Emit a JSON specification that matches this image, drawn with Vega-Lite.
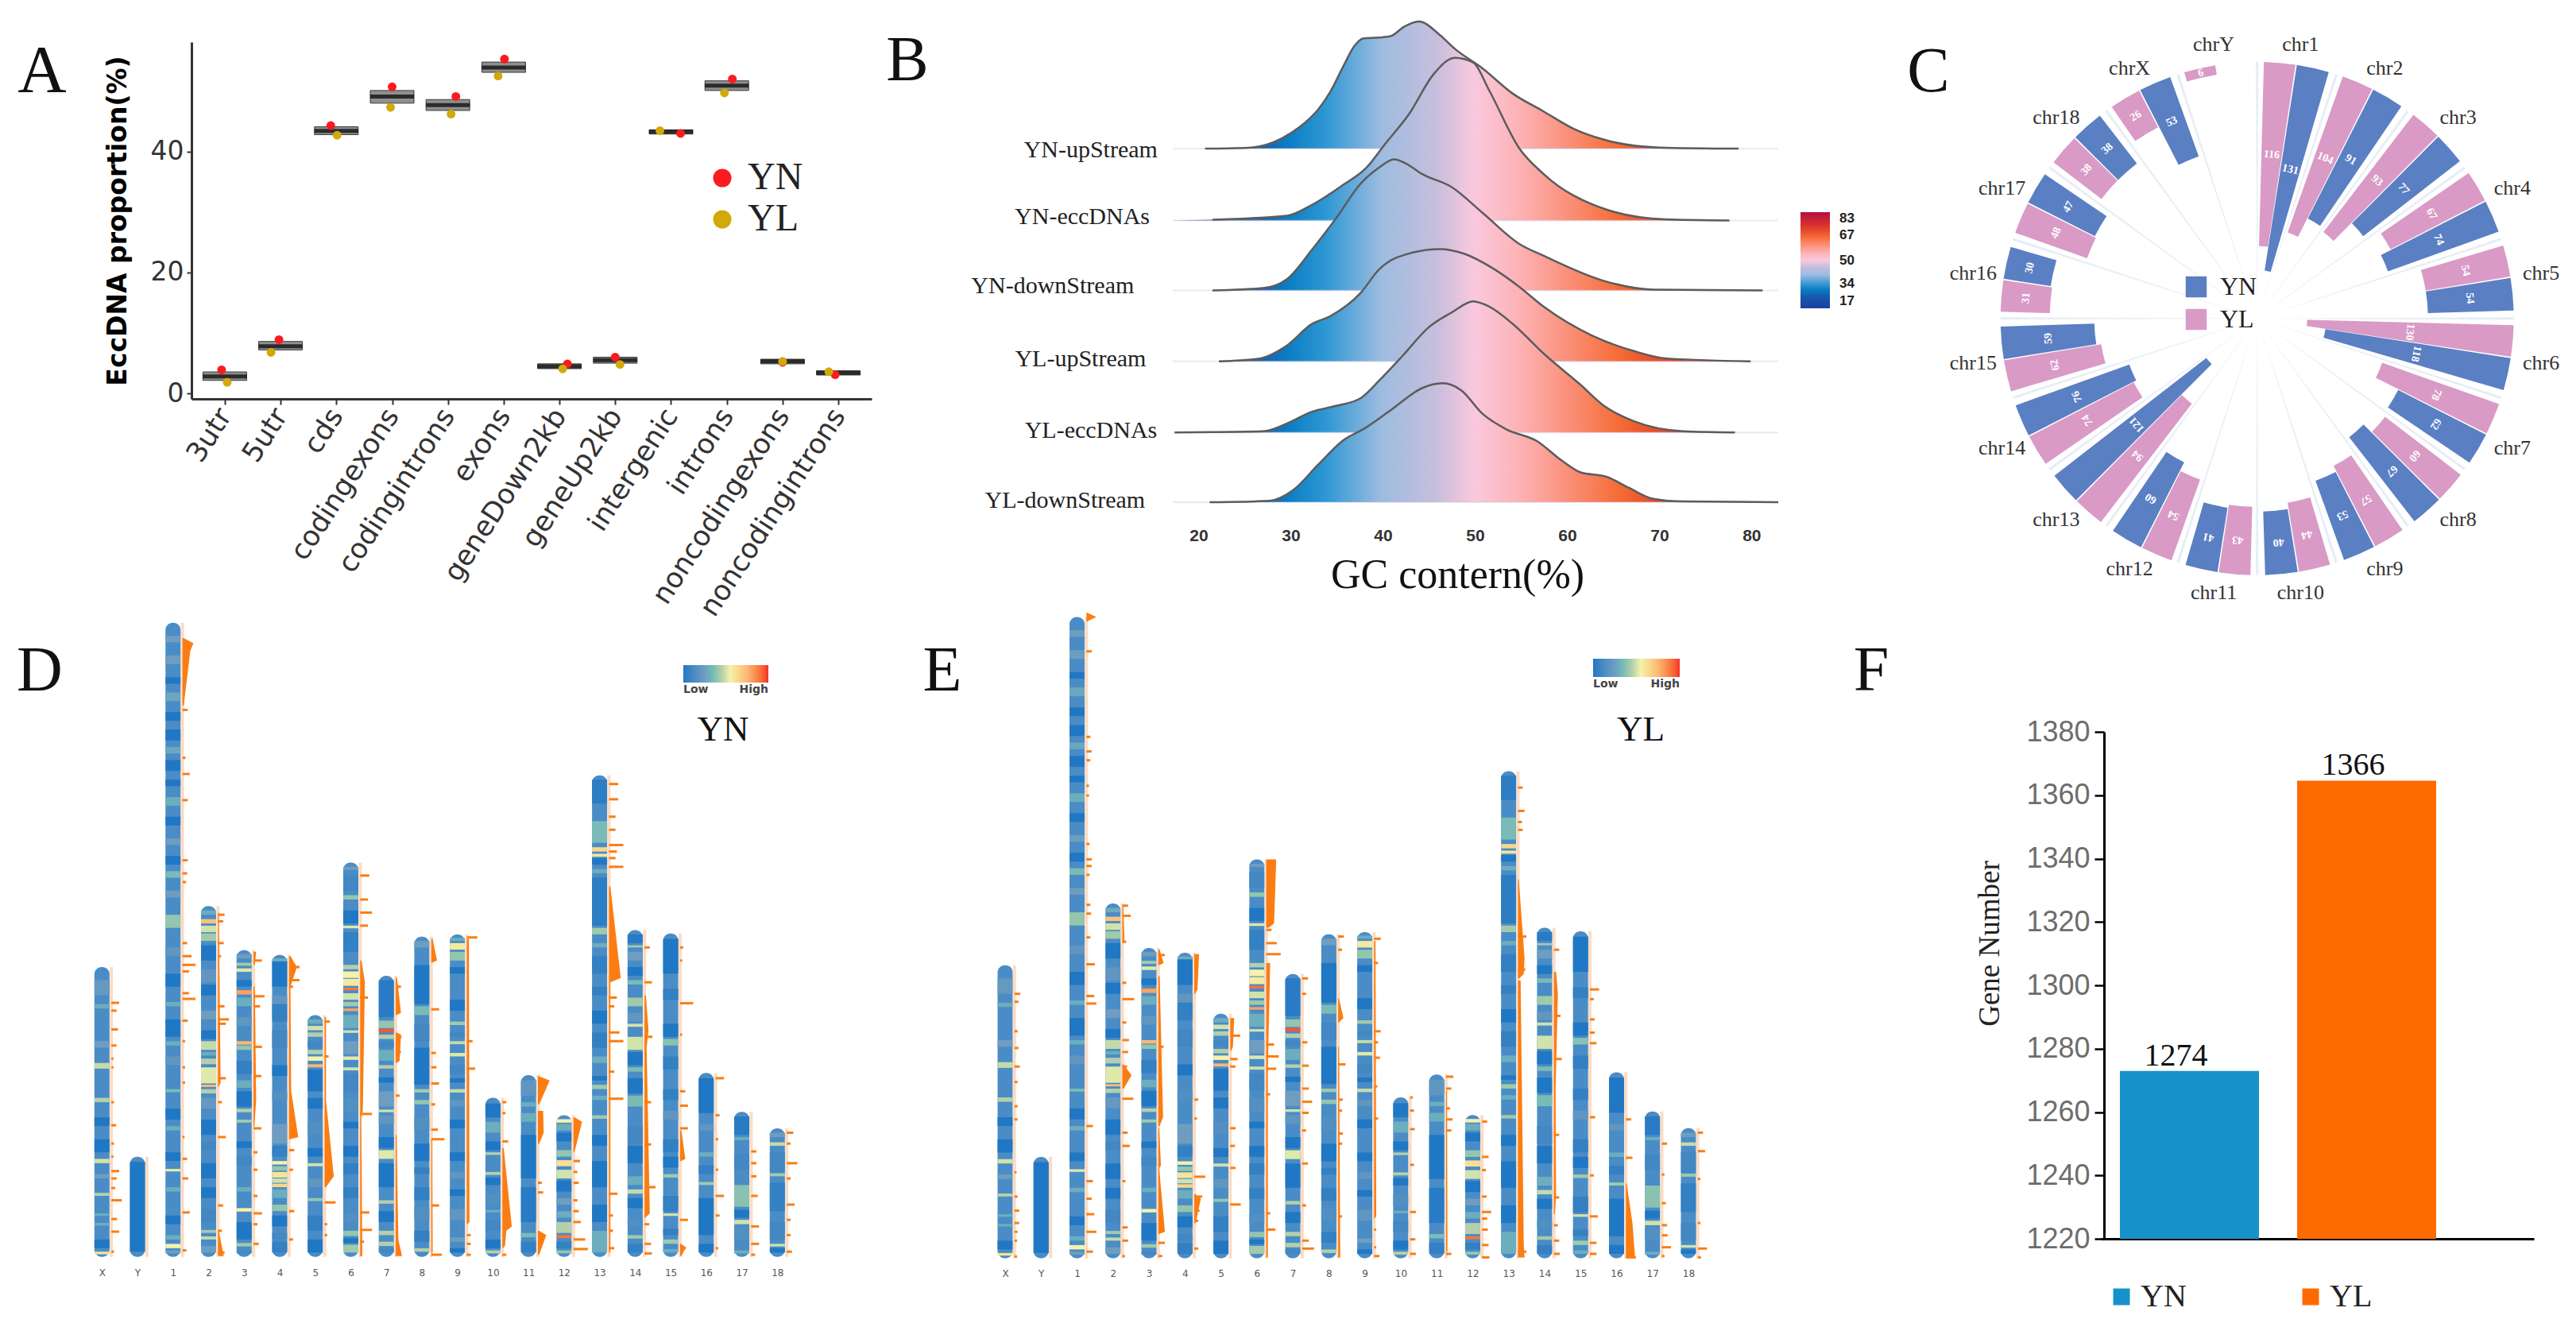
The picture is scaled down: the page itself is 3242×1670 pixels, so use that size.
{"$schema":"https://vega.github.io/schema/vega-lite/v6.json","width":3242,"height":1670,"padding":0,"autosize":{"type":"fit","contains":"padding"},"background":"white","config":{"view":{"stroke":null},"axis":{"grid":false}},
"datasets":{
"box":[{"cat":"3utr","q1":2.16,"q3":3.56,"med":2.8},{"cat":"5utr","q1":7.2,"q3":8.6,"med":7.8},{"cat":"cds","q1":42.8,"q3":44.1,"med":43.4},{"cat":"codingexons","q1":48,"q3":50.1,"med":49.1},{"cat":"codingintrons","q1":46.8,"q3":48.6,"med":47.7},{"cat":"exons","q1":53.1,"q3":54.8,"med":53.9},{"cat":"geneDown2kb","q1":4.1,"q3":4.9,"med":4.5},{"cat":"geneUp2kb","q1":5,"q3":6,"med":5.5},{"cat":"intergenic","q1":42.9,"q3":43.6,"med":43.3},{"cat":"introns","q1":50.1,"q3":51.7,"med":50.9},{"cat":"noncodingexons","q1":4.9,"q3":5.66,"med":5.3},{"cat":"noncodingintrons","q1":3.05,"q3":3.75,"med":3.4}],
"pts":[{"cat":"3utr","g":"YN","v":3.9,"j":-4},{"cat":"3utr","g":"YL","v":1.85,"j":3},{"cat":"5utr","g":"YN","v":8.9,"j":-2},{"cat":"5utr","g":"YL","v":6.8,"j":-12},{"cat":"cds","g":"YN","v":44.3,"j":-7},{"cat":"cds","g":"YL","v":42.7,"j":1},{"cat":"codingexons","g":"YN","v":50.7,"j":0},{"cat":"codingexons","g":"YL","v":47.3,"j":-2},{"cat":"codingintrons","g":"YN","v":49.1,"j":10},{"cat":"codingintrons","g":"YL","v":46.2,"j":4},{"cat":"exons","g":"YN","v":55.3,"j":1},{"cat":"exons","g":"YL","v":52.5,"j":-7},{"cat":"geneDown2kb","g":"YN","v":4.9,"j":10},{"cat":"geneDown2kb","g":"YL","v":4.07,"j":4},{"cat":"geneUp2kb","g":"YN","v":6,"j":0},{"cat":"geneUp2kb","g":"YL","v":4.8,"j":6},{"cat":"intergenic","g":"YN","v":43,"j":12},{"cat":"intergenic","g":"YL","v":43.45,"j":-14},{"cat":"introns","g":"YN","v":52,"j":7},{"cat":"introns","g":"YL","v":49.7,"j":-3},{"cat":"noncodingexons","g":"YN","v":5.15,"j":0},{"cat":"noncodingexons","g":"YL","v":5.3,"j":0},{"cat":"noncodingintrons","g":"YN","v":3.1,"j":-4},{"cat":"noncodingintrons","g":"YL","v":3.6,"j":-12}],
"ridge":[
{"s":"YN-upStream","gc":17.2,"d":0,"t":1},{"s":"YN-upStream","gc":20.7,"d":0},{"s":"YN-upStream","gc":25.7,"d":3},{"s":"YN-upStream","gc":29,"d":26},{"s":"YN-upStream","gc":31,"d":56},{"s":"YN-upStream","gc":33,"d":101},{"s":"YN-upStream","gc":34.3,"d":146},{"s":"YN-upStream","gc":35.6,"d":206},{"s":"YN-upStream","gc":36.9,"d":263},{"s":"YN-upStream","gc":37.9,"d":283},{"s":"YN-upStream","gc":39.6,"d":285},{"s":"YN-upStream","gc":40.9,"d":289},{"s":"YN-upStream","gc":42.2,"d":311},{"s":"YN-upStream","gc":43.9,"d":326},{"s":"YN-upStream","gc":46.2,"d":291},{"s":"YN-upStream","gc":47.8,"d":256},{"s":"YN-upStream","gc":50.8,"d":206},{"s":"YN-upStream","gc":54.1,"d":141},{"s":"YN-upStream","gc":57.4,"d":96},{"s":"YN-upStream","gc":60.7,"d":51},{"s":"YN-upStream","gc":64,"d":23},{"s":"YN-upStream","gc":70,"d":3},{"s":"YN-upStream","gc":78.6,"d":0},{"s":"YN-upStream","gc":82.9,"d":0,"t":1},
{"s":"YN-eccDNAs","gc":17.2,"d":0,"t":1},{"s":"YN-eccDNAs","gc":21.5,"d":2},{"s":"YN-eccDNAs","gc":29.6,"d":12},{"s":"YN-eccDNAs","gc":32.3,"d":40},{"s":"YN-eccDNAs","gc":35.6,"d":90},{"s":"YN-eccDNAs","gc":38.2,"d":135},{"s":"YN-eccDNAs","gc":40.2,"d":195},{"s":"YN-eccDNAs","gc":42.9,"d":275},{"s":"YN-eccDNAs","gc":45.5,"d":375},{"s":"YN-eccDNAs","gc":47.8,"d":417},{"s":"YN-eccDNAs","gc":49.8,"d":405},{"s":"YN-eccDNAs","gc":51.5,"d":335},{"s":"YN-eccDNAs","gc":54.8,"d":185},{"s":"YN-eccDNAs","gc":57.4,"d":120},{"s":"YN-eccDNAs","gc":64,"d":30},{"s":"YN-eccDNAs","gc":70.6,"d":3},{"s":"YN-eccDNAs","gc":77.6,"d":0},{"s":"YN-eccDNAs","gc":82.9,"d":0,"t":1},
{"s":"YN-downStream","gc":17.2,"d":0,"t":1},{"s":"YN-downStream","gc":21.5,"d":0},{"s":"YN-downStream","gc":27,"d":6},{"s":"YN-downStream","gc":29.6,"d":29},{"s":"YN-downStream","gc":32.3,"d":104},{"s":"YN-downStream","gc":34.9,"d":184},{"s":"YN-downStream","gc":37.6,"d":274},{"s":"YN-downStream","gc":39.6,"d":315},{"s":"YN-downStream","gc":41.2,"d":336},{"s":"YN-downStream","gc":42.5,"d":325},{"s":"YN-downStream","gc":44.2,"d":299},{"s":"YN-downStream","gc":47.5,"d":264},{"s":"YN-downStream","gc":50.8,"d":199},{"s":"YN-downStream","gc":54.8,"d":119},{"s":"YN-downStream","gc":57.4,"d":89},{"s":"YN-downStream","gc":64,"d":24},{"s":"YN-downStream","gc":69.3,"d":2},{"s":"YN-downStream","gc":81.2,"d":0},{"s":"YN-downStream","gc":82.9,"d":0,"t":1},
{"s":"YL-upStream","gc":17.2,"d":0,"t":1},{"s":"YL-upStream","gc":22.2,"d":0},{"s":"YL-upStream","gc":26.3,"d":6},{"s":"YL-upStream","gc":29.6,"d":41},{"s":"YL-upStream","gc":32.3,"d":96},{"s":"YL-upStream","gc":34.3,"d":116},{"s":"YL-upStream","gc":37.6,"d":176},{"s":"YL-upStream","gc":39.6,"d":236},{"s":"YL-upStream","gc":41.5,"d":266},{"s":"YL-upStream","gc":46.2,"d":288},{"s":"YL-upStream","gc":48.8,"d":276},{"s":"YL-upStream","gc":52.1,"d":236},{"s":"YL-upStream","gc":54.8,"d":191},{"s":"YL-upStream","gc":57.4,"d":141},{"s":"YL-upStream","gc":62.7,"d":66},{"s":"YL-upStream","gc":67.3,"d":26},{"s":"YL-upStream","gc":70.6,"d":8},{"s":"YL-upStream","gc":79.9,"d":0},{"s":"YL-upStream","gc":82.9,"d":0,"t":1},
{"s":"YL-eccDNAs","gc":17.2,"d":0,"t":1},{"s":"YL-eccDNAs","gc":17.4,"d":0},{"s":"YL-eccDNAs","gc":27,"d":3},{"s":"YL-eccDNAs","gc":29.6,"d":23},{"s":"YL-eccDNAs","gc":32.3,"d":53},{"s":"YL-eccDNAs","gc":34.9,"d":68},{"s":"YL-eccDNAs","gc":37.6,"d":88},{"s":"YL-eccDNAs","gc":39.6,"d":133},{"s":"YL-eccDNAs","gc":42.2,"d":198},{"s":"YL-eccDNAs","gc":44.9,"d":268},{"s":"YL-eccDNAs","gc":47.5,"d":308},{"s":"YL-eccDNAs","gc":49.8,"d":336},{"s":"YL-eccDNAs","gc":51.5,"d":323},{"s":"YL-eccDNAs","gc":54.1,"d":278},{"s":"YL-eccDNAs","gc":57.4,"d":203},{"s":"YL-eccDNAs","gc":61.4,"d":123},{"s":"YL-eccDNAs","gc":64,"d":68},{"s":"YL-eccDNAs","gc":67.3,"d":28},{"s":"YL-eccDNAs","gc":72.6,"d":3},{"s":"YL-eccDNAs","gc":78.2,"d":0},{"s":"YL-eccDNAs","gc":82.9,"d":0,"t":1},
{"s":"YL-downStream","gc":17.2,"d":0,"t":1},{"s":"YL-downStream","gc":21.2,"d":0},{"s":"YL-downStream","gc":27.7,"d":4},{"s":"YL-downStream","gc":30.3,"d":32},{"s":"YL-downStream","gc":33,"d":97},{"s":"YL-downStream","gc":35.6,"d":157},{"s":"YL-downStream","gc":38.2,"d":192},{"s":"YL-downStream","gc":40.9,"d":237},{"s":"YL-downStream","gc":44.2,"d":292},{"s":"YL-downStream","gc":46.5,"d":305},{"s":"YL-downStream","gc":48.5,"d":287},{"s":"YL-downStream","gc":50.8,"d":227},{"s":"YL-downStream","gc":53.4,"d":187},{"s":"YL-downStream","gc":56.7,"d":157},{"s":"YL-downStream","gc":59.4,"d":107},{"s":"YL-downStream","gc":61.4,"d":77},{"s":"YL-downStream","gc":64.3,"d":65},{"s":"YL-downStream","gc":66.7,"d":37},{"s":"YL-downStream","gc":69.3,"d":9},{"s":"YL-downStream","gc":72.6,"d":2},{"s":"YL-downStream","gc":82.9,"d":0}
],
"circ":[{"chr":"chr1","k":0,"group":"YL","value":116},{"chr":"chr1","k":0,"group":"YN","value":131},{"chr":"chr2","k":1,"group":"YL","value":104},{"chr":"chr2","k":1,"group":"YN","value":91},{"chr":"chr3","k":2,"group":"YL","value":93},{"chr":"chr3","k":2,"group":"YN","value":77},{"chr":"chr4","k":3,"group":"YL","value":67},{"chr":"chr4","k":3,"group":"YN","value":74},{"chr":"chr5","k":4,"group":"YL","value":54},{"chr":"chr5","k":4,"group":"YN","value":54},{"chr":"chr6","k":5,"group":"YL","value":130},{"chr":"chr6","k":5,"group":"YN","value":118},{"chr":"chr7","k":6,"group":"YL","value":78},{"chr":"chr7","k":6,"group":"YN","value":62},{"chr":"chr8","k":7,"group":"YL","value":60},{"chr":"chr8","k":7,"group":"YN","value":67},{"chr":"chr9","k":8,"group":"YL","value":57},{"chr":"chr9","k":8,"group":"YN","value":53},{"chr":"chr10","k":9,"group":"YL","value":44},{"chr":"chr10","k":9,"group":"YN","value":40},{"chr":"chr11","k":10,"group":"YL","value":43},{"chr":"chr11","k":10,"group":"YN","value":41},{"chr":"chr12","k":11,"group":"YL","value":54},{"chr":"chr12","k":11,"group":"YN","value":60},{"chr":"chr13","k":12,"group":"YL","value":94},{"chr":"chr13","k":12,"group":"YN","value":121},{"chr":"chr14","k":13,"group":"YL","value":74},{"chr":"chr14","k":13,"group":"YN","value":76},{"chr":"chr15","k":14,"group":"YL","value":62},{"chr":"chr15","k":14,"group":"YN","value":59},{"chr":"chr16","k":15,"group":"YL","value":31},{"chr":"chr16","k":15,"group":"YN","value":30},{"chr":"chr17","k":16,"group":"YL","value":48},{"chr":"chr17","k":16,"group":"YN","value":47},{"chr":"chr18","k":17,"group":"YL","value":38},{"chr":"chr18","k":17,"group":"YN","value":38},{"chr":"chrX","k":18,"group":"YL","value":26},{"chr":"chrX","k":18,"group":"YN","value":53},{"chr":"chrY","k":19,"group":"YL","value":6}],
"chroms":[{"i":0,"len":665},{"i":1,"len":230},{"i":2,"len":1455},{"i":3,"len":805},{"i":4,"len":704},{"i":5,"len":693},{"i":6,"len":555},{"i":7,"len":905},{"i":8,"len":645},{"i":9,"len":735},{"i":10,"len":740},{"i":11,"len":365},{"i":12,"len":417},{"i":13,"len":325},{"i":14,"len":1105},{"i":15,"len":750},{"i":16,"len":742},{"i":17,"len":422},{"i":18,"len":333},{"i":19,"len":295}],
"stripes":[
{"i":0,"s":600,"e":635,"v":0.22},{"i":0,"s":570,"e":580,"v":0.3},{"i":0,"s":480,"e":495,"v":0.25},{"i":0,"s":432,"e":445,"v":0.48},{"i":0,"s":355,"e":365,"v":0.45},{"i":0,"s":300,"e":320,"v":0},{"i":0,"s":240,"e":270,"v":0},{"i":0,"s":215,"e":225,"v":0.5},{"i":0,"s":180,"e":190,"v":0.25},{"i":0,"s":140,"e":147,"v":0.45},{"i":0,"s":94,"e":100,"v":0.3},{"i":0,"s":72,"e":78,"v":0.3},{"i":0,"s":20,"e":40,"v":0},{"i":0,"s":6,"e":12,"v":0.6},
{"i":1,"s":12,"e":218,"v":0},
{"i":2,"s":1410,"e":1425,"v":0.25},{"i":2,"s":1360,"e":1380,"v":0.25},{"i":2,"s":1315,"e":1330,"v":0},{"i":2,"s":1275,"e":1295,"v":0.28},{"i":2,"s":1230,"e":1250,"v":0},{"i":2,"s":1185,"e":1210,"v":0},{"i":2,"s":1155,"e":1170,"v":0.28},{"i":2,"s":1115,"e":1140,"v":0},{"i":2,"s":1080,"e":1095,"v":0},{"i":2,"s":1035,"e":1055,"v":0.3},{"i":2,"s":990,"e":1010,"v":0},{"i":2,"s":945,"e":960,"v":0.25},{"i":2,"s":900,"e":920,"v":0},{"i":2,"s":870,"e":885,"v":0.35},{"i":2,"s":825,"e":840,"v":0.25},{"i":2,"s":755,"e":785,"v":0.4},{"i":2,"s":690,"e":710,"v":0.2},{"i":2,"s":620,"e":650,"v":0},{"i":2,"s":575,"e":585,"v":0.3},{"i":2,"s":505,"e":545,"v":0},{"i":2,"s":485,"e":495,"v":0.3},{"i":2,"s":440,"e":460,"v":0.2},{"i":2,"s":378,"e":385,"v":0.35},{"i":2,"s":315,"e":340,"v":0},{"i":2,"s":290,"e":300,"v":0.3},{"i":2,"s":220,"e":240,"v":0},{"i":2,"s":196,"e":202,"v":0.52},{"i":2,"s":150,"e":160,"v":0.3},{"i":2,"s":75,"e":95,"v":0},{"i":2,"s":40,"e":50,"v":0.3},{"i":2,"s":20,"e":30,"v":0.55},{"i":2,"s":8,"e":15,"v":0.25},
{"i":3,"s":785,"e":795,"v":0.3},{"i":3,"s":765,"e":775,"v":0.72},{"i":3,"s":745,"e":760,"v":0.5},{"i":3,"s":725,"e":742,"v":0.42},{"i":3,"s":680,"e":715,"v":0},{"i":3,"s":630,"e":660,"v":0.2},{"i":3,"s":600,"e":625,"v":0},{"i":3,"s":545,"e":565,"v":0.25},{"i":3,"s":500,"e":520,"v":0},{"i":3,"s":475,"e":495,"v":0.48},{"i":3,"s":462,"e":470,"v":0.3},{"i":3,"s":442,"e":455,"v":0.45},{"i":3,"s":398,"e":435,"v":0.52},{"i":3,"s":390,"e":395,"v":0.72},{"i":3,"s":375,"e":385,"v":0.45},{"i":3,"s":340,"e":365,"v":0.22},{"i":3,"s":280,"e":315,"v":0},{"i":3,"s":245,"e":265,"v":0.1},{"i":3,"s":180,"e":215,"v":0},{"i":3,"s":135,"e":160,"v":0},{"i":3,"s":80,"e":110,"v":0.1},{"i":3,"s":55,"e":62,"v":0.42},{"i":3,"s":40,"e":47,"v":0.48},{"i":3,"s":10,"e":25,"v":0.25},
{"i":4,"s":685,"e":695,"v":0.25},{"i":4,"s":668,"e":675,"v":0.42},{"i":4,"s":654,"e":662,"v":0.52},{"i":4,"s":620,"e":635,"v":0},{"i":4,"s":602,"e":612,"v":0.8},{"i":4,"s":575,"e":595,"v":0.3},{"i":4,"s":530,"e":550,"v":0.2},{"i":4,"s":487,"e":495,"v":0.75},{"i":4,"s":475,"e":485,"v":0.4},{"i":4,"s":420,"e":450,"v":0.05},{"i":4,"s":388,"e":405,"v":0.3},{"i":4,"s":345,"e":380,"v":0},{"i":4,"s":332,"e":340,"v":0.45},{"i":4,"s":308,"e":315,"v":0.42},{"i":4,"s":250,"e":265,"v":0},{"i":4,"s":210,"e":230,"v":0.1},{"i":4,"s":150,"e":160,"v":0.3},{"i":4,"s":104,"e":112,"v":0.55},{"i":4,"s":40,"e":80,"v":0},{"i":4,"s":24,"e":32,"v":0.42},{"i":4,"s":8,"e":15,"v":0.1},
{"i":5,"s":678,"e":685,"v":0.3},{"i":5,"s":620,"e":678,"v":0},{"i":5,"s":580,"e":600,"v":0.2},{"i":5,"s":540,"e":580,"v":0.05},{"i":5,"s":480,"e":520,"v":0.1},{"i":5,"s":415,"e":440,"v":0},{"i":5,"s":360,"e":380,"v":0.15},{"i":5,"s":260,"e":305,"v":0.25},{"i":5,"s":230,"e":255,"v":0.05},{"i":5,"s":212,"e":220,"v":0.55},{"i":5,"s":198,"e":208,"v":0.4},{"i":5,"s":182,"e":195,"v":0.6},{"i":5,"s":170,"e":180,"v":0.5},{"i":5,"s":160,"e":168,"v":0.65},{"i":5,"s":135,"e":155,"v":0.3},{"i":5,"s":105,"e":120,"v":0.4},{"i":5,"s":70,"e":95,"v":0},{"i":5,"s":40,"e":55,"v":0.1},{"i":5,"s":10,"e":35,"v":0.05},
{"i":6,"s":535,"e":545,"v":0.3},{"i":6,"s":520,"e":530,"v":0.5},{"i":6,"s":505,"e":515,"v":0.45},{"i":6,"s":480,"e":495,"v":0.1},{"i":6,"s":465,"e":475,"v":0.45},{"i":6,"s":450,"e":460,"v":0.55},{"i":6,"s":435,"e":442,"v":0.75},{"i":6,"s":380,"e":430,"v":0},{"i":6,"s":340,"e":365,"v":0},{"i":6,"s":280,"e":310,"v":0.15},{"i":6,"s":230,"e":250,"v":0},{"i":6,"s":208,"e":215,"v":0.5},{"i":6,"s":160,"e":180,"v":0.2},{"i":6,"s":128,"e":135,"v":0.4},{"i":6,"s":60,"e":95,"v":0.05},{"i":6,"s":10,"e":40,"v":0},
{"i":7,"s":888,"e":895,"v":0.25},{"i":7,"s":840,"e":875,"v":0.1},{"i":7,"s":820,"e":830,"v":0.4},{"i":7,"s":765,"e":795,"v":0},{"i":7,"s":754,"e":760,"v":0.52},{"i":7,"s":700,"e":745,"v":0.05},{"i":7,"s":660,"e":670,"v":0.45},{"i":7,"s":640,"e":655,"v":0.55},{"i":7,"s":622,"e":638,"v":0.58},{"i":7,"s":612,"e":618,"v":0.9},{"i":7,"s":590,"e":605,"v":0.5},{"i":7,"s":575,"e":585,"v":0.42},{"i":7,"s":564,"e":570,"v":0.8},{"i":7,"s":525,"e":555,"v":0.3},{"i":7,"s":514,"e":520,"v":0.5},{"i":7,"s":465,"e":495,"v":0.25},{"i":7,"s":452,"e":460,"v":0.52},{"i":7,"s":428,"e":435,"v":0.5},{"i":7,"s":380,"e":420,"v":0.1},{"i":7,"s":330,"e":365,"v":0.15},{"i":7,"s":295,"e":310,"v":0},{"i":7,"s":230,"e":255,"v":0},{"i":7,"s":190,"e":215,"v":0.05},{"i":7,"s":135,"e":160,"v":0.05},{"i":7,"s":80,"e":100,"v":0.15},{"i":7,"s":48,"e":60,"v":0.4},{"i":7,"s":32,"e":43,"v":0},{"i":7,"s":10,"e":28,"v":0.42},
{"i":8,"s":550,"e":635,"v":0.02},{"i":8,"s":525,"e":542,"v":0.4},{"i":8,"s":515,"e":523,"v":0.95},{"i":8,"s":500,"e":510,"v":0.45},{"i":8,"s":480,"e":495,"v":0.1},{"i":8,"s":450,"e":475,"v":0.3},{"i":8,"s":432,"e":440,"v":0.45},{"i":8,"s":400,"e":412,"v":0},{"i":8,"s":345,"e":380,"v":0.25},{"i":8,"s":332,"e":338,"v":0.5},{"i":8,"s":305,"e":325,"v":0.2},{"i":8,"s":250,"e":275,"v":0},{"i":8,"s":225,"e":245,"v":0.52},{"i":8,"s":160,"e":215,"v":0},{"i":8,"s":122,"e":130,"v":0.45},{"i":8,"s":80,"e":105,"v":0},{"i":8,"s":50,"e":60,"v":0.45},{"i":8,"s":25,"e":35,"v":0.45},{"i":8,"s":10,"e":20,"v":0.1},
{"i":9,"s":710,"e":725,"v":0.25},{"i":9,"s":580,"e":670,"v":0},{"i":9,"s":555,"e":575,"v":0.35},{"i":9,"s":495,"e":535,"v":0.1},{"i":9,"s":395,"e":480,"v":0},{"i":9,"s":377,"e":385,"v":0.42},{"i":9,"s":350,"e":360,"v":0.4},{"i":9,"s":290,"e":320,"v":0.15},{"i":9,"s":220,"e":260,"v":0},{"i":9,"s":190,"e":205,"v":0.05},{"i":9,"s":130,"e":160,"v":0.05},{"i":9,"s":85,"e":115,"v":0.15},{"i":9,"s":35,"e":60,"v":0.05},{"i":9,"s":12,"e":20,"v":0.45},
{"i":10,"s":725,"e":732,"v":0.3},{"i":10,"s":705,"e":720,"v":0.58},{"i":10,"s":680,"e":700,"v":0.4},{"i":10,"s":650,"e":665,"v":0},{"i":10,"s":565,"e":590,"v":0},{"i":10,"s":532,"e":540,"v":0.42},{"i":10,"s":505,"e":515,"v":0.1},{"i":10,"s":488,"e":495,"v":0.48},{"i":10,"s":460,"e":468,"v":0.52},{"i":10,"s":420,"e":440,"v":0.1},{"i":10,"s":400,"e":410,"v":0},{"i":10,"s":377,"e":385,"v":0.48},{"i":10,"s":345,"e":360,"v":0.2},{"i":10,"s":295,"e":315,"v":0},{"i":10,"s":220,"e":240,"v":0},{"i":10,"s":180,"e":195,"v":0.2},{"i":10,"s":140,"e":155,"v":0},{"i":10,"s":85,"e":110,"v":0.2},{"i":10,"s":35,"e":45,"v":0.25},{"i":10,"s":10,"e":20,"v":0},
{"i":11,"s":320,"e":352,"v":0},{"i":11,"s":285,"e":310,"v":0.3},{"i":11,"s":245,"e":265,"v":0},{"i":11,"s":234,"e":240,"v":0.45},{"i":11,"s":188,"e":195,"v":0.45},{"i":11,"s":165,"e":182,"v":0},{"i":11,"s":120,"e":145,"v":0.15},{"i":11,"s":102,"e":108,"v":0.3},{"i":11,"s":60,"e":85,"v":0.1},{"i":11,"s":20,"e":40,"v":0},{"i":11,"s":8,"e":15,"v":0.45},
{"i":12,"s":370,"e":405,"v":0.2},{"i":12,"s":345,"e":355,"v":0.3},{"i":12,"s":310,"e":330,"v":0.3},{"i":12,"s":180,"e":280,"v":0},{"i":12,"s":80,"e":160,"v":0.02},{"i":12,"s":45,"e":55,"v":0.35},{"i":12,"s":10,"e":35,"v":0.05},
{"i":13,"s":308,"e":316,"v":0.55},{"i":13,"s":290,"e":305,"v":0.3},{"i":13,"s":265,"e":285,"v":0},{"i":13,"s":230,"e":245,"v":0.4},{"i":13,"s":208,"e":222,"v":0.62},{"i":13,"s":180,"e":200,"v":0.5},{"i":13,"s":150,"e":175,"v":0},{"i":13,"s":120,"e":135,"v":0.25},{"i":13,"s":90,"e":105,"v":0.3},{"i":13,"s":55,"e":80,"v":0.45},{"i":13,"s":43,"e":50,"v":0.9},{"i":13,"s":20,"e":35,"v":0.05},{"i":13,"s":8,"e":15,"v":0.4},
{"i":14,"s":1040,"e":1095,"v":0.03},{"i":14,"s":950,"e":1000,"v":0.35},{"i":14,"s":930,"e":940,"v":0.65},{"i":14,"s":918,"e":925,"v":0.6},{"i":14,"s":900,"e":915,"v":0},{"i":14,"s":880,"e":890,"v":0.3},{"i":14,"s":760,"e":870,"v":0.03},{"i":14,"s":740,"e":755,"v":0.42},{"i":14,"s":710,"e":720,"v":0.3},{"i":14,"s":650,"e":690,"v":0.05},{"i":14,"s":600,"e":620,"v":0.05},{"i":14,"s":535,"e":565,"v":0},{"i":14,"s":480,"e":515,"v":0.05},{"i":14,"s":445,"e":460,"v":0.3},{"i":14,"s":405,"e":415,"v":0},{"i":14,"s":385,"e":395,"v":0.42},{"i":14,"s":360,"e":370,"v":0.3},{"i":14,"s":317,"e":325,"v":0.42},{"i":14,"s":255,"e":280,"v":0},{"i":14,"s":160,"e":220,"v":0},{"i":14,"s":80,"e":120,"v":0},{"i":14,"s":10,"e":60,"v":0.3},
{"i":15,"s":720,"e":740,"v":0.02},{"i":15,"s":710,"e":715,"v":0.42},{"i":15,"s":680,"e":700,"v":0.25},{"i":15,"s":645,"e":665,"v":0},{"i":15,"s":625,"e":635,"v":0.35},{"i":15,"s":575,"e":595,"v":0.42},{"i":15,"s":540,"e":560,"v":0.2},{"i":15,"s":528,"e":535,"v":0.5},{"i":15,"s":475,"e":505,"v":0.5},{"i":15,"s":440,"e":470,"v":0},{"i":15,"s":425,"e":435,"v":0.35},{"i":15,"s":375,"e":410,"v":0},{"i":15,"s":345,"e":370,"v":0.35},{"i":15,"s":260,"e":300,"v":0.1},{"i":15,"s":215,"e":255,"v":0},{"i":15,"s":165,"e":185,"v":0.3},{"i":15,"s":145,"e":155,"v":0.48},{"i":15,"s":112,"e":135,"v":0},{"i":15,"s":70,"e":85,"v":0.15},{"i":15,"s":42,"e":50,"v":0.42},{"i":15,"s":10,"e":30,"v":0.05},
{"i":16,"s":650,"e":730,"v":0},{"i":16,"s":590,"e":615,"v":0.05},{"i":16,"s":505,"e":535,"v":0},{"i":16,"s":485,"e":500,"v":0.38},{"i":16,"s":430,"e":460,"v":0.05},{"i":16,"s":360,"e":385,"v":0.05},{"i":16,"s":315,"e":335,"v":0.2},{"i":16,"s":240,"e":270,"v":0.05},{"i":16,"s":205,"e":230,"v":0},{"i":16,"s":182,"e":190,"v":0.42},{"i":16,"s":105,"e":140,"v":0.05},{"i":16,"s":94,"e":100,"v":0.5},{"i":16,"s":50,"e":65,"v":0.05},{"i":16,"s":30,"e":40,"v":0.42},{"i":16,"s":10,"e":18,"v":0.3},
{"i":17,"s":330,"e":410,"v":0},{"i":17,"s":290,"e":305,"v":0.2},{"i":17,"s":230,"e":240,"v":0.3},{"i":17,"s":190,"e":210,"v":0.05},{"i":17,"s":165,"e":172,"v":0.42},{"i":17,"s":50,"e":135,"v":0},{"i":17,"s":10,"e":30,"v":0},
{"i":18,"s":280,"e":322,"v":0.02},{"i":18,"s":268,"e":275,"v":0.3},{"i":18,"s":200,"e":235,"v":0.1},{"i":18,"s":115,"e":165,"v":0.38},{"i":18,"s":90,"e":108,"v":0},{"i":18,"s":75,"e":85,"v":0.5},{"i":18,"s":40,"e":70,"v":0.15},{"i":18,"s":8,"e":15,"v":0.3},
{"i":19,"s":275,"e":285,"v":0.25},{"i":19,"s":255,"e":263,"v":0.48},{"i":19,"s":195,"e":240,"v":0.1},{"i":19,"s":185,"e":192,"v":0.42},{"i":19,"s":105,"e":170,"v":0.05},{"i":19,"s":40,"e":80,"v":0.1},{"i":19,"s":24,"e":30,"v":0.5},{"i":19,"s":10,"e":20,"v":0}
],
"dSpikes":[
{"i":0,"p":583,"w":30},{"i":0,"p":565,"w":20},{"i":0,"p":522,"w":25},{"i":0,"p":485,"w":20},{"i":0,"p":455,"w":8},{"i":0,"p":435,"w":8},{"i":0,"p":355,"w":10},{"i":0,"p":302,"w":18},{"i":0,"p":260,"w":10},{"i":0,"p":230,"w":8},{"i":0,"p":197,"w":30},{"i":0,"p":180,"w":20},{"i":0,"p":158,"w":15},{"i":0,"p":130,"w":40},{"i":0,"p":87,"w":22},{"i":0,"p":58,"w":30},{"i":0,"p":12,"w":10},
{"i":2,"p":1255,"w":20},{"i":2,"p":1145,"w":12},{"i":2,"p":1108,"w":28},{"i":2,"p":1048,"w":20},{"i":2,"p":910,"w":20},{"i":2,"p":880,"w":18},{"i":2,"p":860,"w":14},{"i":2,"p":720,"w":18},{"i":2,"p":690,"w":35},{"i":2,"p":670,"w":50},{"i":2,"p":655,"w":25},{"i":2,"p":605,"w":25},{"i":2,"p":592,"w":50},{"i":2,"p":542,"w":20},{"i":2,"p":495,"w":10},{"i":2,"p":435,"w":10},{"i":2,"p":400,"w":10},{"i":2,"p":275,"w":8},{"i":2,"p":225,"w":18},{"i":2,"p":180,"w":22},{"i":2,"p":102,"w":28},{"i":2,"p":15,"w":15},
{"i":3,"p":785,"w":25},{"i":3,"p":770,"w":20},{"i":3,"p":720,"w":22},{"i":3,"p":690,"w":12},{"i":3,"p":575,"w":25},{"i":3,"p":545,"w":42},{"i":3,"p":535,"w":30},{"i":3,"p":410,"w":30},{"i":3,"p":355,"w":15},{"i":3,"p":275,"w":30},{"i":3,"p":118,"w":20},{"i":3,"p":60,"w":15},{"i":3,"p":10,"w":25},
{"i":4,"p":680,"w":32},{"i":4,"p":598,"w":42},{"i":4,"p":575,"w":25},{"i":4,"p":482,"w":32},{"i":4,"p":415,"w":30},{"i":4,"p":295,"w":30},{"i":4,"p":240,"w":15},{"i":4,"p":200,"w":15},{"i":4,"p":140,"w":15},{"i":4,"p":100,"w":32},{"i":4,"p":75,"w":15},{"i":4,"p":30,"w":20},
{"i":5,"p":665,"w":40},{"i":5,"p":635,"w":40},{"i":5,"p":620,"w":15},{"i":5,"p":245,"w":20},{"i":5,"p":200,"w":15},{"i":5,"p":105,"w":20},{"i":5,"p":40,"w":15},
{"i":6,"p":540,"w":20},{"i":6,"p":460,"w":15},{"i":6,"p":125,"w":42},{"i":6,"p":75,"w":10},{"i":6,"p":50,"w":10},
{"i":7,"p":875,"w":35},{"i":7,"p":820,"w":30},{"i":7,"p":790,"w":45},{"i":7,"p":760,"w":30},{"i":7,"p":595,"w":30},{"i":7,"p":328,"w":45},{"i":7,"p":102,"w":35},{"i":7,"p":62,"w":45},{"i":7,"p":35,"w":15},
{"i":8,"p":620,"w":20},{"i":8,"p":505,"w":22},{"i":8,"p":470,"w":20},{"i":8,"p":370,"w":15},
{"i":9,"p":568,"w":30},{"i":9,"p":468,"w":18},{"i":9,"p":435,"w":20},{"i":9,"p":398,"w":30},{"i":9,"p":350,"w":15},{"i":9,"p":292,"w":25},{"i":9,"p":270,"w":50},{"i":9,"p":118,"w":30},{"i":9,"p":5,"w":40},
{"i":10,"p":733,"w":40},{"i":10,"p":495,"w":22},{"i":10,"p":432,"w":32},{"i":10,"p":50,"w":15},{"i":10,"p":30,"w":15},{"i":10,"p":5,"w":15},
{"i":11,"p":355,"w":15},{"i":11,"p":330,"w":12},{"i":11,"p":265,"w":22},{"i":11,"p":5,"w":15},
{"i":12,"p":170,"w":15},{"i":12,"p":148,"w":20},
{"i":13,"p":220,"w":25},{"i":13,"p":195,"w":15},{"i":13,"p":170,"w":20},{"i":13,"p":130,"w":15},{"i":13,"p":105,"w":20},{"i":13,"p":80,"w":28},{"i":13,"p":40,"w":45},{"i":13,"p":18,"w":55},
{"i":14,"p":1085,"w":35},{"i":14,"p":1050,"w":35},{"i":14,"p":1010,"w":25},{"i":14,"p":980,"w":25},{"i":14,"p":945,"w":55},{"i":14,"p":930,"w":30},{"i":14,"p":915,"w":25},{"i":14,"p":895,"w":55},{"i":14,"p":595,"w":30},{"i":14,"p":575,"w":20},{"i":14,"p":515,"w":40},{"i":14,"p":495,"w":55},{"i":14,"p":425,"w":20},{"i":14,"p":363,"w":55},{"i":14,"p":145,"w":32},{"i":14,"p":95,"w":15},{"i":14,"p":60,"w":15},{"i":14,"p":20,"w":20},
{"i":15,"p":710,"w":20},{"i":15,"p":630,"w":28},{"i":15,"p":505,"w":30},{"i":15,"p":355,"w":25},{"i":15,"p":258,"w":25},{"i":15,"p":160,"w":42},{"i":15,"p":75,"w":18},{"i":15,"p":30,"w":25},{"i":15,"p":8,"w":28},
{"i":16,"p":710,"w":12},{"i":16,"p":680,"w":8},{"i":16,"p":582,"w":50},{"i":16,"p":510,"w":8},{"i":16,"p":380,"w":20},{"i":16,"p":347,"w":30},{"i":16,"p":295,"w":30},{"i":16,"p":85,"w":30},{"i":16,"p":20,"w":22},
{"i":17,"p":410,"w":32},{"i":17,"p":325,"w":15},{"i":17,"p":270,"w":10},{"i":17,"p":200,"w":10},{"i":17,"p":140,"w":32},{"i":17,"p":95,"w":15},{"i":17,"p":20,"w":10},
{"i":18,"p":242,"w":20},{"i":18,"p":215,"w":20},{"i":18,"p":185,"w":20},{"i":18,"p":140,"w":25},{"i":18,"p":70,"w":30},{"i":18,"p":30,"w":30},{"i":18,"p":5,"w":15},
{"i":19,"p":285,"w":25},{"i":19,"p":260,"w":15},{"i":19,"p":215,"w":40},{"i":19,"p":180,"w":15},{"i":19,"p":120,"w":30},{"i":19,"p":85,"w":15},{"i":19,"p":50,"w":15},{"i":19,"p":12,"w":20}
],
"dWedges":[
{"i":2,"g":"1a","p":1420,"w":5},{"i":2,"g":"1a","p":1408,"w":42},{"i":2,"g":"1a","p":1390,"w":30},{"i":2,"g":"1a","p":1265,"w":5},
{"i":3,"g":"2a","p":790,"w":3},{"i":3,"g":"2a","p":400,"w":10},{"i":3,"g":"2a","p":390,"w":2},{"i":3,"g":"2b","p":60,"w":3},{"i":3,"g":"2b","p":2,"w":22},
{"i":4,"g":"3a","p":620,"w":5},{"i":4,"g":"3a","p":360,"w":10},{"i":4,"g":"3a","p":300,"w":3},{"i":4,"g":"3b","p":700,"w":10},{"i":4,"g":"3b","p":670,"w":5},
{"i":5,"g":"4a","p":690,"w":5},{"i":5,"g":"4a","p":665,"w":30},{"i":5,"g":"4a","p":620,"w":5},{"i":5,"g":"4a","p":380,"w":8},{"i":5,"g":"4a","p":275,"w":35},{"i":5,"g":"4a","p":270,"w":3},
{"i":6,"g":"5a","p":550,"w":5},{"i":6,"g":"5a","p":360,"w":5},{"i":6,"g":"5a","p":185,"w":35},{"i":6,"g":"5a","p":160,"w":5},
{"i":7,"g":"6a","p":680,"w":5},{"i":7,"g":"6a","p":630,"w":18},{"i":7,"g":"6a","p":335,"w":10},{"i":7,"g":"6a","p":320,"w":4},{"i":7,"g":"6a","p":2,"w":8},
{"i":8,"g":"7a","p":640,"w":5},{"i":8,"g":"7a","p":560,"w":20},{"i":8,"g":"7a","p":555,"w":3},{"i":8,"g":"7b","p":515,"w":3},{"i":8,"g":"7b","p":510,"w":20},{"i":8,"g":"7b","p":450,"w":15},{"i":8,"g":"7b","p":445,"w":3},{"i":8,"g":"7c","p":280,"w":3},{"i":8,"g":"7c","p":40,"w":10},{"i":8,"g":"7c","p":2,"w":24},
{"i":9,"g":"8a","p":730,"w":5},{"i":9,"g":"8a","p":680,"w":22},{"i":9,"g":"8a","p":675,"w":3},{"i":9,"g":"8b","p":270,"w":3},{"i":9,"g":"8b","p":10,"w":5},
{"i":10,"g":"9a","p":730,"w":8},{"i":10,"g":"9a","p":80,"w":10},{"i":10,"g":"9a","p":75,"w":2},
{"i":11,"g":"10a","p":250,"w":5},{"i":11,"g":"10a","p":70,"w":36},{"i":11,"g":"10a","p":60,"w":15},{"i":11,"g":"10a","p":25,"w":10},{"i":11,"g":"10a","p":20,"w":2},
{"i":12,"g":"11a","p":415,"w":3},{"i":12,"g":"11a","p":405,"w":45},{"i":12,"g":"11a","p":350,"w":5},{"i":12,"g":"11b","p":335,"w":20},{"i":12,"g":"11b","p":285,"w":22},{"i":12,"g":"11b","p":260,"w":5},{"i":12,"g":"11c","p":60,"w":5},{"i":12,"g":"11c","p":50,"w":32},{"i":12,"g":"11c","p":5,"w":5},
{"i":13,"g":"12a","p":320,"w":5},{"i":13,"g":"12a","p":310,"w":33},{"i":13,"g":"12a","p":255,"w":10},{"i":13,"g":"12a","p":240,"w":3},
{"i":14,"g":"13a","p":850,"w":5},{"i":14,"g":"13a","p":640,"w":45},{"i":14,"g":"13a","p":630,"w":5},{"i":14,"g":"13a","p":10,"w":5},
{"i":15,"g":"14a","p":600,"w":5},{"i":15,"g":"14a","p":520,"w":15},{"i":15,"g":"14a","p":480,"w":8},{"i":15,"g":"14a","p":100,"w":20},{"i":15,"g":"14a","p":90,"w":3},
{"i":16,"g":"15a","p":290,"w":5},{"i":16,"g":"15a","p":225,"w":20},{"i":16,"g":"15a","p":220,"w":2},{"i":16,"g":"15b","p":30,"w":3},{"i":16,"g":"15b","p":22,"w":22},{"i":16,"g":"15b","p":2,"w":5}
],
"eSpikes":[
{"i":0,"p":600,"w":22},{"i":0,"p":582,"w":15},{"i":0,"p":515,"w":12},{"i":0,"p":477,"w":15},{"i":0,"p":435,"w":20},{"i":0,"p":400,"w":12},{"i":0,"p":345,"w":12},{"i":0,"p":315,"w":12},{"i":0,"p":195,"w":8},{"i":0,"p":140,"w":12},{"i":0,"p":108,"w":18},{"i":0,"p":80,"w":18},{"i":0,"p":60,"w":12},{"i":0,"p":40,"w":10},{"i":0,"p":4,"w":10},
{"i":2,"p":1377,"w":20},{"i":2,"p":1183,"w":15},{"i":2,"p":1150,"w":20},{"i":2,"p":1130,"w":15},{"i":2,"p":1072,"w":10},{"i":2,"p":1050,"w":10},{"i":2,"p":940,"w":12},{"i":2,"p":905,"w":20},{"i":2,"p":890,"w":20},{"i":2,"p":870,"w":12},{"i":2,"p":802,"w":15},{"i":2,"p":782,"w":18},{"i":2,"p":728,"w":15},{"i":2,"p":667,"w":32},{"i":2,"p":595,"w":30},{"i":2,"p":578,"w":38},{"i":2,"p":300,"w":25},{"i":2,"p":175,"w":25},{"i":2,"p":135,"w":20},{"i":2,"p":100,"w":30},{"i":2,"p":60,"w":38},{"i":2,"p":15,"w":25},
{"i":3,"p":800,"w":22},{"i":3,"p":777,"w":32},{"i":3,"p":718,"w":15},{"i":3,"p":625,"w":15},{"i":3,"p":588,"w":45},{"i":3,"p":535,"w":15},{"i":3,"p":495,"w":25},{"i":3,"p":468,"w":22},{"i":3,"p":435,"w":18},{"i":3,"p":362,"w":42},{"i":3,"p":285,"w":20},{"i":3,"p":255,"w":28},{"i":3,"p":175,"w":12},{"i":3,"p":70,"w":20},{"i":3,"p":40,"w":22},{"i":3,"p":5,"w":10},
{"i":4,"p":688,"w":25},{"i":4,"p":480,"w":20},{"i":4,"p":35,"w":25},{"i":4,"p":5,"w":15},
{"i":5,"p":185,"w":42},{"i":5,"p":140,"w":30},{"i":5,"p":108,"w":20},{"i":5,"p":85,"w":15},{"i":5,"p":22,"w":15},{"i":5,"p":360,"w":15},{"i":5,"p":317,"w":10},
{"i":6,"p":505,"w":38},{"i":6,"p":452,"w":28},{"i":6,"p":435,"w":20},{"i":6,"p":295,"w":20},{"i":6,"p":255,"w":18},{"i":6,"p":205,"w":20},{"i":6,"p":122,"w":40},
{"i":7,"p":745,"w":20},{"i":7,"p":715,"w":40},{"i":7,"p":690,"w":55},{"i":7,"p":485,"w":30},{"i":7,"p":458,"w":48},{"i":7,"p":430,"w":38},{"i":7,"p":372,"w":15},{"i":7,"p":102,"w":15},{"i":7,"p":65,"w":35},
{"i":8,"p":635,"w":22},{"i":8,"p":600,"w":15},{"i":8,"p":490,"w":20},{"i":8,"p":437,"w":25},{"i":8,"p":385,"w":25},{"i":8,"p":355,"w":38},{"i":8,"p":330,"w":25},{"i":8,"p":290,"w":15},{"i":8,"p":215,"w":22},{"i":8,"p":120,"w":15},{"i":8,"p":40,"w":25},{"i":8,"p":22,"w":45},
{"i":9,"p":730,"w":22},{"i":9,"p":700,"w":15},{"i":9,"p":440,"w":28},{"i":9,"p":360,"w":18},{"i":9,"p":335,"w":15},{"i":9,"p":283,"w":18},{"i":9,"p":260,"w":15},{"i":9,"p":95,"w":15},
{"i":10,"p":725,"w":25},{"i":10,"p":670,"w":15},{"i":10,"p":515,"w":25},{"i":10,"p":490,"w":15},{"i":10,"p":455,"w":22},{"i":10,"p":390,"w":12},{"i":10,"p":317,"w":15},{"i":10,"p":65,"w":8},{"i":10,"p":25,"w":8},{"i":10,"p":5,"w":20},
{"i":11,"p":365,"w":10},{"i":11,"p":335,"w":15},{"i":11,"p":293,"w":18},{"i":11,"p":212,"w":15},{"i":11,"p":105,"w":22},{"i":11,"p":43,"w":20},{"i":11,"p":10,"w":22},
{"i":12,"p":412,"w":28},{"i":12,"p":385,"w":20},{"i":12,"p":340,"w":15},{"i":12,"p":315,"w":25},{"i":12,"p":290,"w":20},{"i":12,"p":10,"w":20},
{"i":13,"p":310,"w":20},{"i":13,"p":230,"w":25},{"i":13,"p":200,"w":15},{"i":13,"p":140,"w":18},{"i":13,"p":105,"w":35},{"i":13,"p":90,"w":20},{"i":13,"p":65,"w":22},{"i":13,"p":30,"w":25},{"i":13,"p":2,"w":28},
{"i":14,"p":1068,"w":18},{"i":14,"p":1015,"w":25},{"i":14,"p":990,"w":15},{"i":14,"p":972,"w":18},{"i":14,"p":730,"w":32},{"i":14,"p":655,"w":28},{"i":14,"p":15,"w":32},
{"i":15,"p":700,"w":20},{"i":15,"p":550,"w":25},{"i":15,"p":452,"w":30},{"i":15,"p":280,"w":20},{"i":15,"p":138,"w":20},{"i":15,"p":75,"w":15},{"i":15,"p":40,"w":20},{"i":15,"p":10,"w":22},
{"i":16,"p":610,"w":35},{"i":16,"p":588,"w":15},{"i":16,"p":542,"w":18},{"i":16,"p":512,"w":18},{"i":16,"p":488,"w":25},{"i":16,"p":320,"w":20},{"i":16,"p":188,"w":15},{"i":16,"p":95,"w":30},{"i":16,"p":35,"w":25},{"i":16,"p":10,"w":25},
{"i":17,"p":315,"w":20},{"i":17,"p":228,"w":25},{"i":17,"p":2,"w":38},
{"i":18,"p":260,"w":20},{"i":18,"p":190,"w":10},{"i":18,"p":125,"w":15},{"i":18,"p":75,"w":20},{"i":18,"p":52,"w":22},{"i":18,"p":25,"w":35},{"i":18,"p":5,"w":10},
{"i":19,"p":285,"w":20},{"i":19,"p":243,"w":28},{"i":19,"p":180,"w":10},{"i":19,"p":80,"w":10},{"i":19,"p":22,"w":35},{"i":19,"p":2,"w":12}
],
"eWedges":[
{"i":2,"g":"1a","p":1465,"w":3},{"i":2,"g":"1a","p":1455,"w":38},{"i":2,"g":"1a","p":1445,"w":3},
{"i":3,"g":"2a","p":800,"w":3},{"i":3,"g":"2a","p":720,"w":8},{"i":3,"g":"2a","p":715,"w":2},{"i":3,"g":"2b","p":440,"w":5},{"i":3,"g":"2b","p":415,"w":35},{"i":3,"g":"2b","p":385,"w":5},
{"i":4,"g":"3a","p":700,"w":5},{"i":4,"g":"3a","p":670,"w":20},{"i":4,"g":"3a","p":665,"w":3},{"i":4,"g":"3b","p":640,"w":5},{"i":4,"g":"3b","p":320,"w":18},{"i":4,"g":"3b","p":300,"w":5},{"i":4,"g":"3c","p":295,"w":3},{"i":4,"g":"3c","p":210,"w":10},{"i":4,"g":"3c","p":205,"w":3},{"i":4,"g":"3c","p":60,"w":25},{"i":4,"g":"3c","p":55,"w":3},
{"i":5,"g":"4a","p":690,"w":18},{"i":5,"g":"4a","p":610,"w":12},{"i":5,"g":"4a","p":600,"w":3},{"i":5,"g":"4b","p":145,"w":5},{"i":5,"g":"4b","p":135,"w":25},{"i":5,"g":"4b","p":80,"w":5},
{"i":6,"g":"5a","p":545,"w":15},{"i":6,"g":"5a","p":480,"w":10},{"i":6,"g":"5a","p":470,"w":3},
{"i":7,"g":"6a","p":905,"w":38},{"i":7,"g":"6a","p":760,"w":30},{"i":7,"g":"6a","p":750,"w":10},{"i":7,"g":"6b","p":670,"w":15},{"i":7,"g":"6b","p":480,"w":8},{"i":7,"g":"6b","p":420,"w":6},{"i":7,"g":"6b","p":2,"w":6},
{"i":9,"g":"8a","p":590,"w":3},{"i":9,"g":"8a","p":545,"w":20},{"i":9,"g":"8a","p":535,"w":3},{"i":9,"g":"8b","p":480,"w":3},{"i":9,"g":"8b","p":2,"w":8},
{"i":10,"g":"9a","p":720,"w":5},{"i":10,"g":"9a","p":95,"w":8},{"i":10,"g":"9a","p":90,"w":2},
{"i":12,"g":"11a","p":380,"w":3},{"i":12,"g":"11a","p":15,"w":5},
{"i":14,"g":"13a","p":860,"w":3},{"i":14,"g":"13a","p":680,"w":25},{"i":14,"g":"13a","p":645,"w":22},{"i":14,"g":"13a","p":635,"w":5},{"i":14,"g":"13b","p":630,"w":10},{"i":14,"g":"13b","p":30,"w":22},{"i":14,"g":"13b","p":2,"w":25},
{"i":15,"g":"14a","p":650,"w":8},{"i":15,"g":"14a","p":600,"w":15},{"i":15,"g":"14a","p":380,"w":6},{"i":15,"g":"14a","p":140,"w":8},{"i":15,"g":"14a","p":100,"w":3},
{"i":17,"g":"16a","p":170,"w":3},{"i":17,"g":"16a","p":80,"w":25},{"i":17,"g":"16a","p":2,"w":35}
],
"genes":[{"group":"YN","val":1273,"label":"1274"},{"group":"YL","val":1364.6,"label":"1366"}]
},
"layer":[
{"layer":[
{"data":{"name":"box"},"mark":{"type":"bar","size":55,"fill":"#8f8f8f","stroke":"#3a3a3a","strokeWidth":1},"encoding":{"x":{"field":"cat","type":"nominal","sort":null,"scale":{"type":"point","domain":["3utr","5utr","cds","codingexons","codingintrons","exons","geneDown2kb","geneUp2kb","intergenic","introns","noncodingexons","noncodingintrons"],"range":[241,1097],"padding":0.597},"axis":{"orient":"bottom","offset":-1168,"title":null,"labelAngle":-57,"labelAlign":"right","labelBaseline":"middle","labelFont":"DejaVu Sans","labelFontSize":35,"labelColor":"#333","labelPadding":8,"labelLimit":600,"tickSize":7,"tickWidth":2,"tickColor":"#333","domainColor":"#333","domainWidth":3,"labelOverlap":false}},"y":{"field":"q1","type":"quantitative","scale":{"domain":[-0.9,58.1],"range":[502,53],"nice":false,"zero":false},"axis":{"orient":"left","offset":-241,"values":[0,20,40],"title":"EccDNA proportion(%)","titleFont":"DejaVu Sans","titleFontWeight":"bold","titleFontSize":33,"titleColor":"#000","titlePadding":24,"labelFont":"DejaVu Sans","labelFontSize":33,"labelColor":"#333","labelPadding":4,"tickSize":6,"tickWidth":2,"tickColor":"#333","domainColor":"#333","domainWidth":3}},"y2":{"field":"q3"}}},
{"data":{"name":"box"},"mark":{"type":"tick","size":55,"thickness":5,"color":"#000"},"encoding":{"x":{"field":"cat","type":"nominal"},"y":{"field":"med","type":"quantitative"}}},
{"data":{"name":"pts"},"mark":{"type":"point","filled":true,"size":120,"opacity":1},"encoding":{"x":{"field":"cat","type":"nominal"},"xOffset":{"field":"j","type":"quantitative","scale":{"domain":[-20,20],"range":[-20,20]}},"y":{"field":"v","type":"quantitative"},"color":{"field":"g","type":"nominal","scale":{"domain":["YN","YL"],"range":["#fa1a1f","#d2a80a"]},"legend":{"orient":"none","legendX":885,"legendY":200,"title":null,"symbolSize":529,"symbolType":"circle","labelFont":"Liberation Serif","labelFontSize":48,"labelColor":"#222","labelOffset":8,"rowPadding":4,"symbolStrokeWidth":0}}}}
]},
{"layer":[
{"data":{"name":"ridge"},"transform":[{"filter":"datum.s=='YN-upStream'"}],"layer":[
{"mark":{"type":"area","interpolate":"monotone","strokeWidth":2,"strokeOpacity":0.35,"fill":{"gradient":"linear","x1":0,"x2":1,"y1":0,"y2":0,"stops":[{"offset":0,"color":"#1c3f9e"},{"offset":0.148,"color":"#1a5fb0"},{"offset":0.193,"color":"#0a7fc4"},{"offset":0.254,"color":"#2f98d4"},{"offset":0.345,"color":"#9dbce0"},{"offset":0.437,"color":"#c9bedd"},{"offset":0.498,"color":"#fac8de"},{"offset":0.574,"color":"#fdb2b4"},{"offset":0.65,"color":"#fb917c"},{"offset":0.741,"color":"#f56a32"},{"offset":0.83,"color":"#e03a28"},{"offset":1,"color":"#b2103e"}]},"stroke":"#c9bedd"},"encoding":{"x":{"field":"gc","type":"quantitative","scale":{"domain":[17.2,82.9],"range":[1476,2238],"nice":false,"zero":false},"axis":{"orient":"bottom","offset":-1012,"values":[20,30,40,50,60,70,80],"title":"GC contern(%)","titleFont":"Liberation Serif","titleFontSize":52,"titleFontWeight":"normal","titleColor":"#111","titlePadding":14,"titleX":1834,"domain":false,"ticks":false,"labelFont":"Liberation Sans","labelFontWeight":"bold","labelFontSize":21,"labelColor":"#333","labelPadding":5}},"y":{"field":"d","type":"quantitative","scale":{"domain":[0,100],"range":[187.1,138],"nice":false,"zero":false},"axis":null}}},
{"transform":[{"filter":"!datum.t"}],"mark":{"type":"line","interpolate":"monotone","color":"#5c5c5c","strokeWidth":2.5},"encoding":{"x":{"field":"gc","type":"quantitative"},"y":{"field":"d","type":"quantitative","axis":null}}},
{"transform":[{"filter":"datum.gc==17.2"}],"mark":{"type":"text","font":"Liberation Serif","fontSize":30,"align":"right","baseline":"middle","color":"#222"},"encoding":{"text":{"field":"s"},"x":{"datum":15.55,"type":"quantitative"},"y":{"datum":-4,"type":"quantitative","axis":null}}}
]},
{"data":{"name":"ridge"},"transform":[{"filter":"datum.s=='YN-eccDNAs'"}],"layer":[
{"mark":{"type":"area","interpolate":"monotone","strokeWidth":2,"strokeOpacity":0.35,"fill":{"gradient":"linear","x1":0,"x2":1,"y1":0,"y2":0,"stops":[{"offset":0,"color":"#1c3f9e"},{"offset":0.148,"color":"#1a5fb0"},{"offset":0.193,"color":"#0a7fc4"},{"offset":0.254,"color":"#2f98d4"},{"offset":0.345,"color":"#9dbce0"},{"offset":0.437,"color":"#c9bedd"},{"offset":0.498,"color":"#fac8de"},{"offset":0.574,"color":"#fdb2b4"},{"offset":0.65,"color":"#fb917c"},{"offset":0.741,"color":"#f56a32"},{"offset":0.83,"color":"#e03a28"},{"offset":1,"color":"#b2103e"}]},"stroke":"#c9bedd"},"encoding":{"x":{"field":"gc","type":"quantitative"},"y":{"field":"d","type":"quantitative","scale":{"domain":[0,100],"range":[277.5,228.4],"nice":false,"zero":false},"axis":null}}},
{"transform":[{"filter":"!datum.t"}],"mark":{"type":"line","interpolate":"monotone","color":"#5c5c5c","strokeWidth":2.5},"encoding":{"x":{"field":"gc","type":"quantitative"},"y":{"field":"d","type":"quantitative","axis":null}}},
{"transform":[{"filter":"datum.gc==17.2"}],"mark":{"type":"text","font":"Liberation Serif","fontSize":30,"align":"right","baseline":"middle","color":"#222"},"encoding":{"text":{"field":"s"},"x":{"datum":14.7,"type":"quantitative"},"y":{"datum":10,"type":"quantitative","axis":null}}}
]},
{"data":{"name":"ridge"},"transform":[{"filter":"datum.s=='YN-downStream'"}],"layer":[
{"mark":{"type":"area","interpolate":"monotone","strokeWidth":2,"strokeOpacity":0.35,"fill":{"gradient":"linear","x1":0,"x2":1,"y1":0,"y2":0,"stops":[{"offset":0,"color":"#1c3f9e"},{"offset":0.148,"color":"#1a5fb0"},{"offset":0.193,"color":"#0a7fc4"},{"offset":0.254,"color":"#2f98d4"},{"offset":0.345,"color":"#9dbce0"},{"offset":0.437,"color":"#c9bedd"},{"offset":0.498,"color":"#fac8de"},{"offset":0.574,"color":"#fdb2b4"},{"offset":0.65,"color":"#fb917c"},{"offset":0.741,"color":"#f56a32"},{"offset":0.83,"color":"#e03a28"},{"offset":1,"color":"#b2103e"}]},"stroke":"#c9bedd"},"encoding":{"x":{"field":"gc","type":"quantitative"},"y":{"field":"d","type":"quantitative","scale":{"domain":[0,100],"range":[365.4,316.3],"nice":false,"zero":false},"axis":null}}},
{"transform":[{"filter":"!datum.t"}],"mark":{"type":"line","interpolate":"monotone","color":"#5c5c5c","strokeWidth":2.5},"encoding":{"x":{"field":"gc","type":"quantitative"},"y":{"field":"d","type":"quantitative","axis":null}}},
{"transform":[{"filter":"datum.gc==17.2"}],"mark":{"type":"text","font":"Liberation Serif","fontSize":30,"align":"right","baseline":"middle","color":"#222"},"encoding":{"text":{"field":"s"},"x":{"datum":13,"type":"quantitative"},"y":{"datum":12,"type":"quantitative","axis":null}}}
]},
{"data":{"name":"ridge"},"transform":[{"filter":"datum.s=='YL-upStream'"}],"layer":[
{"mark":{"type":"area","interpolate":"monotone","strokeWidth":2,"strokeOpacity":0.35,"fill":{"gradient":"linear","x1":0,"x2":1,"y1":0,"y2":0,"stops":[{"offset":0,"color":"#1c3f9e"},{"offset":0.148,"color":"#1a5fb0"},{"offset":0.193,"color":"#0a7fc4"},{"offset":0.254,"color":"#2f98d4"},{"offset":0.345,"color":"#9dbce0"},{"offset":0.437,"color":"#c9bedd"},{"offset":0.498,"color":"#fac8de"},{"offset":0.574,"color":"#fdb2b4"},{"offset":0.65,"color":"#fb917c"},{"offset":0.741,"color":"#f56a32"},{"offset":0.83,"color":"#e03a28"},{"offset":1,"color":"#b2103e"}]},"stroke":"#c9bedd"},"encoding":{"x":{"field":"gc","type":"quantitative"},"y":{"field":"d","type":"quantitative","scale":{"domain":[0,100],"range":[454.8,405.7],"nice":false,"zero":false},"axis":null}}},
{"transform":[{"filter":"!datum.t"}],"mark":{"type":"line","interpolate":"monotone","color":"#5c5c5c","strokeWidth":2.5},"encoding":{"x":{"field":"gc","type":"quantitative"},"y":{"field":"d","type":"quantitative","axis":null}}},
{"transform":[{"filter":"datum.gc==17.2"}],"mark":{"type":"text","font":"Liberation Serif","fontSize":30,"align":"right","baseline":"middle","color":"#222"},"encoding":{"text":{"field":"s"},"x":{"datum":14.3,"type":"quantitative"},"y":{"datum":6,"type":"quantitative","axis":null}}}
]},
{"data":{"name":"ridge"},"transform":[{"filter":"datum.s=='YL-eccDNAs'"}],"layer":[
{"mark":{"type":"area","interpolate":"monotone","strokeWidth":2,"strokeOpacity":0.35,"fill":{"gradient":"linear","x1":0,"x2":1,"y1":0,"y2":0,"stops":[{"offset":0,"color":"#1c3f9e"},{"offset":0.148,"color":"#1a5fb0"},{"offset":0.193,"color":"#0a7fc4"},{"offset":0.254,"color":"#2f98d4"},{"offset":0.345,"color":"#9dbce0"},{"offset":0.437,"color":"#c9bedd"},{"offset":0.498,"color":"#fac8de"},{"offset":0.574,"color":"#fdb2b4"},{"offset":0.65,"color":"#fb917c"},{"offset":0.741,"color":"#f56a32"},{"offset":0.83,"color":"#e03a28"},{"offset":1,"color":"#b2103e"}]},"stroke":"#c9bedd"},"encoding":{"x":{"field":"gc","type":"quantitative"},"y":{"field":"d","type":"quantitative","scale":{"domain":[0,100],"range":[544.2,495.1],"nice":false,"zero":false},"axis":null}}},
{"transform":[{"filter":"!datum.t"}],"mark":{"type":"line","interpolate":"monotone","color":"#5c5c5c","strokeWidth":2.5},"encoding":{"x":{"field":"gc","type":"quantitative"},"y":{"field":"d","type":"quantitative","axis":null}}},
{"transform":[{"filter":"datum.gc==17.2"}],"mark":{"type":"text","font":"Liberation Serif","fontSize":30,"align":"right","baseline":"middle","color":"#222"},"encoding":{"text":{"field":"s"},"x":{"datum":15.5,"type":"quantitative"},"y":{"datum":4,"type":"quantitative","axis":null}}}
]},
{"data":{"name":"ridge"},"transform":[{"filter":"datum.s=='YL-downStream'"}],"layer":[
{"mark":{"type":"area","interpolate":"monotone","strokeWidth":2,"strokeOpacity":0.35,"fill":{"gradient":"linear","x1":0,"x2":1,"y1":0,"y2":0,"stops":[{"offset":0,"color":"#1c3f9e"},{"offset":0.148,"color":"#1a5fb0"},{"offset":0.193,"color":"#0a7fc4"},{"offset":0.254,"color":"#2f98d4"},{"offset":0.345,"color":"#9dbce0"},{"offset":0.437,"color":"#c9bedd"},{"offset":0.498,"color":"#fac8de"},{"offset":0.574,"color":"#fdb2b4"},{"offset":0.65,"color":"#fb917c"},{"offset":0.741,"color":"#f56a32"},{"offset":0.83,"color":"#e03a28"},{"offset":1,"color":"#b2103e"}]},"stroke":"#c9bedd"},"encoding":{"x":{"field":"gc","type":"quantitative"},"y":{"field":"d","type":"quantitative","scale":{"domain":[0,100],"range":[632.1,583],"nice":false,"zero":false},"axis":null}}},
{"transform":[{"filter":"!datum.t"}],"mark":{"type":"line","interpolate":"monotone","color":"#5c5c5c","strokeWidth":2.5},"encoding":{"x":{"field":"gc","type":"quantitative"},"y":{"field":"d","type":"quantitative","axis":null}}},
{"transform":[{"filter":"datum.gc==17.2"}],"mark":{"type":"text","font":"Liberation Serif","fontSize":30,"align":"right","baseline":"middle","color":"#222"},"encoding":{"text":{"field":"s"},"x":{"datum":14.2,"type":"quantitative"},"y":{"datum":4,"type":"quantitative","axis":null}}}
]},
{"data":{"values":[{"gc":17},{"gc":34},{"gc":50},{"gc":67},{"gc":83}]},"mark":{"type":"point","opacity":0,"filled":true},"encoding":{"x":{"datum":50,"type":"quantitative"},"color":{"field":"gc","type":"quantitative","scale":{"domain":[17,27,30,34,40,46,50,55,60,66,72,83],"range":["#1c3f9e","#1a5fb0","#0a7fc4","#2f98d4","#9dbce0","#c9bedd","#fac8de","#fdb2b4","#fb917c","#f56a32","#e03a28","#b2103e"]},"legend":{"orient":"none","legendX":2266,"legendY":267,"title":null,"gradientLength":121,"gradientThickness":37,"values":[17,34,50,67,83],"labelFont":"Liberation Sans","labelFontWeight":"bold","labelFontSize":17,"labelColor":"#222","labelOffset":12}}}}
],"resolve":{"scale":{"y":"independent"}}},
{"encoding":{"x":{"datum":2840.7,"type":"quantitative","scale":{"domain":[0,3242],"range":[0,3242],"nice":false,"zero":false},"axis":null},"y":{"datum":400.8,"type":"quantitative","scale":{"domain":[0,1670],"range":[0,1670],"nice":false,"zero":false},"axis":null}},
"layer":[
{"data":{"name":"circ"},"transform":[{"filter":"datum.group=='YL'"},{"calculate":"datum.k*18-0.3","as":"a0"},{"calculate":"datum.k*18+0.3","as":"a1"}],"mark":{"type":"arc","fill":"#e8edf6"},"encoding":{"theta":{"field":"a0","type":"quantitative","stack":null,"scale":{"domain":[0,360]}},"theta2":{"field":"a1"},"radius":{"datum":150,"type":"quantitative","scale":{"domain":[0,161.5],"range":[323,0],"nice":false,"zero":false}},"radius2":{"datum":0}}},
{"data":{"name":"circ"},"transform":[{"calculate":"datum.k*18+(datum.group=='YL'?1.5:8.9)","as":"a0"},{"calculate":"datum.k*18+(datum.group=='YL'?8.6:16.2)","as":"a1"}],"mark":{"type":"arc"},"encoding":{"theta":{"field":"a0","type":"quantitative","stack":null},"theta2":{"field":"a1"},"radius":{"field":"value","type":"quantitative"},"radius2":{"datum":0},"color":{"field":"group","type":"nominal","scale":{"domain":["YN","YL"],"range":["#5a7fc3","#d99ac6"]},"legend":{"orient":"none","legendX":2748,"legendY":345,"title":null,"symbolType":"square","symbolSize":700,"labelFont":"Liberation Serif","labelFontSize":32,"labelColor":"#222","labelOffset":14,"rowPadding":9,"symbolStrokeWidth":0}}}},
{"data":{"name":"circ"},"transform":[{"calculate":"datum.k*18+(datum.group=='YL'?5.05:12.55)","as":"a"},{"calculate":"datum.value/2","as":"mid"}],"mark":{"type":"text","font":"Liberation Serif","fontSize":14,"fontWeight":"bold","color":"#ffffff"},"encoding":{"theta":{"field":"a","type":"quantitative","stack":null},"radius":{"field":"mid","type":"quantitative"},"text":{"field":"value","type":"quantitative"},"angle":{"field":"a","type":"quantitative","scale":null}}},
{"data":{"name":"circ"},"transform":[{"filter":"datum.group=='YL'"},{"calculate":"datum.k*18+9","as":"a"},{"calculate":"-12-7.5*abs(sin(datum.a*PI/180))","as":"lr"}],"mark":{"type":"text","font":"Liberation Serif","fontSize":26,"color":"#333"},"encoding":{"theta":{"field":"a","type":"quantitative","stack":null},"radius":{"field":"lr","type":"quantitative"},"text":{"field":"chr"}}}
]},
{"layer":[
{"data":{"name":"chroms"},"mark":{"type":"bar","size":19,"cornerRadius":9,"color":"#4a8cc6"},"encoding":{"x":{"field":"i","type":"quantitative","scale":{"domain":[0,19],"range":[123.3,983.3],"nice":false,"zero":false},"axis":{"orient":"bottom","offset":-74,"values":[0,1,2,3,4,5,6,7,8,9,10,11,12,13,14,15,16,17,18,19],"labelExpr":"datum.value==0?'X':datum.value==1?'Y':''+(datum.value-1)","title":null,"domain":false,"ticks":false,"labelFont":"DejaVu Sans","labelFontSize":12,"labelColor":"#555","labelPadding":0,"labelOverlap":false,"labelFlush":false}},"y":{"field":"len","type":"quantitative","scale":{"domain":[0,1480],"range":[1581.8,770],"nice":false,"zero":false},"axis":null},"y2":{"datum":0}}},
{"data":{"name":"stripes"},"mark":{"type":"bar","size":19},"encoding":{"x":{"field":"i","type":"quantitative"},"y":{"field":"s","type":"quantitative","axis":null},"y2":{"field":"e"},"color":{"field":"v","type":"quantitative","scale":{"domain":[0,0.25,0.45,0.55,0.75,1],"range":["#2078c4","#6f9dc0","#b5cfaa","#f6f2ab","#fdb774","#f4312c"]},"legend":{"orient":"none","legendX":860,"legendY":837,"direction":"horizontal","title":null,"gradientLength":107,"gradientThickness":22,"values":[0,1],"labelExpr":"datum.value==0?'Low':'High'","labelFont":"DejaVu Sans","labelFontSize":14,"labelFontWeight":"bold","labelColor":"#444","labelOffset":2}}}},
{"data":{"name":"chroms"},"transform":[{"calculate":"datum.i+0.265","as":"x0"}],"mark":{"type":"rule","color":"#fbdcc4","strokeWidth":4},"encoding":{"x":{"field":"x0","type":"quantitative"},"y":{"field":"len","type":"quantitative","axis":null},"y2":{"datum":0}}},
{"data":{"name":"dWedges"},"transform":[{"calculate":"datum.i+0.265","as":"x0"},{"calculate":"datum.i+0.265+datum.w/136","as":"x1"}],"mark":{"type":"area","orient":"horizontal","color":"#fb7d12"},"encoding":{"x":{"field":"x0","type":"quantitative"},"x2":{"field":"x1"},"y":{"field":"p","type":"quantitative","axis":null},"detail":{"field":"g"}}},
{"data":{"name":"dSpikes"},"transform":[{"calculate":"datum.i+0.265","as":"x0"},{"calculate":"datum.i+0.265+datum.w/136","as":"x1"}],"mark":{"type":"rule","color":"#fb7d12","strokeWidth":3},"encoding":{"x":{"field":"x0","type":"quantitative"},"x2":{"field":"x1"},"y":{"field":"p","type":"quantitative","axis":null}}}
]},
{"layer":[
{"data":{"name":"chroms"},"mark":{"type":"bar","size":19,"cornerRadius":9,"color":"#4a8cc6"},"encoding":{"x":{"field":"i","type":"quantitative","scale":{"domain":[0,19],"range":[1260,2130],"nice":false,"zero":false},"axis":{"orient":"bottom","offset":-73,"values":[0,1,2,3,4,5,6,7,8,9,10,11,12,13,14,15,16,17,18,19],"labelExpr":"datum.value==0?'X':datum.value==1?'Y':''+(datum.value-1)","title":null,"domain":false,"ticks":false,"labelFont":"DejaVu Sans","labelFontSize":12,"labelColor":"#555","labelPadding":0,"labelOverlap":false,"labelFlush":false}},"y":{"field":"len","type":"quantitative","scale":{"domain":[0,1480],"range":[1583.5,762.6],"nice":false,"zero":false},"axis":null},"y2":{"datum":0}}},
{"data":{"name":"stripes"},"mark":{"type":"bar","size":19},"encoding":{"x":{"field":"i","type":"quantitative"},"y":{"field":"s","type":"quantitative","axis":null},"y2":{"field":"e"},"color":{"field":"v","type":"quantitative","scale":{"domain":[0,0.25,0.45,0.55,0.75,1],"range":["#2078c4","#6f9dc0","#b5cfaa","#f6f2ab","#fdb774","#f4312c"]},"legend":{"orient":"none","legendX":2005,"legendY":829,"direction":"horizontal","title":null,"gradientLength":109,"gradientThickness":23,"values":[0,1],"labelExpr":"datum.value==0?'Low':'High'","labelFont":"DejaVu Sans","labelFontSize":14,"labelFontWeight":"bold","labelColor":"#444","labelOffset":2}}}},
{"data":{"name":"chroms"},"transform":[{"calculate":"datum.i+0.26","as":"x0"}],"mark":{"type":"rule","color":"#fbdcc4","strokeWidth":4},"encoding":{"x":{"field":"x0","type":"quantitative"},"y":{"field":"len","type":"quantitative","axis":null},"y2":{"datum":0}}},
{"data":{"name":"eWedges"},"transform":[{"calculate":"datum.i+0.26","as":"x0"},{"calculate":"datum.i+0.26+datum.w/137","as":"x1"}],"mark":{"type":"area","orient":"horizontal","color":"#fb7d12"},"encoding":{"x":{"field":"x0","type":"quantitative"},"x2":{"field":"x1"},"y":{"field":"p","type":"quantitative","axis":null},"detail":{"field":"g"}}},
{"data":{"name":"eSpikes"},"transform":[{"calculate":"datum.i+0.26","as":"x0"},{"calculate":"datum.i+0.26+datum.w/137","as":"x1"}],"mark":{"type":"rule","color":"#fb7d12","strokeWidth":3},"encoding":{"x":{"field":"x0","type":"quantitative"},"x2":{"field":"x1"},"y":{"field":"p","type":"quantitative","axis":null}}}
]},
{"data":{"name":"genes"},"layer":[
{"mark":{"type":"bar","size":175},"encoding":{"x":{"field":"group","type":"nominal","sort":null,"scale":{"type":"band","domain":["YN","YL"],"range":[2644,3189],"paddingInner":0,"paddingOuter":0.222,"align":0},"axis":{"orient":"bottom","offset":-111,"title":null,"labels":false,"ticks":false,"domainColor":"#000","domainWidth":3}},"y":{"field":"val","type":"quantitative","scale":{"domain":[1220,1380],"range":[1559,921],"nice":false,"zero":false},"axis":{"orient":"left","offset":-2648,"values":[1220,1240,1260,1280,1300,1320,1340,1360,1380],"format":"d","title":"Gene Number","titleFont":"Liberation Serif","titleFontSize":37,"titleFontWeight":"normal","titleColor":"#222","titleY":1187,"titlePadding":26,"labelFont":"Liberation Sans","labelFontSize":36,"labelColor":"#6d6d6d","labelPadding":6,"tickSize":12,"tickWidth":2.5,"tickColor":"#000","domainColor":"#000","domainWidth":3}},"y2":{"datum":1220},"color":{"field":"group","type":"nominal","scale":{"domain":["YN","YL"],"range":["#1692cb","#ff6a00"]},"legend":{"orient":"none","legendX":2650,"legendY":1612,"direction":"horizontal","columns":2,"columnPadding":136,"title":null,"symbolType":"square","symbolSize":441,"labelFont":"Liberation Serif","labelFontSize":40,"labelColor":"#222","labelOffset":4,"symbolStrokeWidth":0}}}},
{"mark":{"type":"text","font":"Liberation Serif","fontSize":40,"color":"#111","baseline":"alphabetic","dx":-17,"dy":-7},"encoding":{"x":{"field":"group","type":"nominal"},"y":{"field":"val","type":"quantitative"},"text":{"field":"label"}}}
]},
{"data":{"values":[{"t":"x"}]},"layer":[
{"mark":{"type":"text","text":"A","font":"Liberation Serif","fontSize":85,"color":"#111","align":"center","baseline":"alphabetic"},"encoding":{"x":{"datum":53,"type":"quantitative","scale":{"domain":[0,3242],"range":[0,3242],"nice":false,"zero":false},"axis":null},"y":{"datum":116,"type":"quantitative","scale":{"domain":[0,1670],"range":[0,1670],"nice":false,"zero":false},"axis":null}}},
{"mark":{"type":"text","text":"B","font":"Liberation Serif","fontSize":80,"color":"#111","align":"center","baseline":"alphabetic"},"encoding":{"x":{"datum":1142,"type":"quantitative","axis":null},"y":{"datum":101,"type":"quantitative","axis":null}}},
{"mark":{"type":"text","text":"C","font":"Liberation Serif","fontSize":80,"color":"#111","align":"center","baseline":"alphabetic"},"encoding":{"x":{"datum":2427,"type":"quantitative","axis":null},"y":{"datum":115,"type":"quantitative","axis":null}}},
{"mark":{"type":"text","text":"D","font":"Liberation Serif","fontSize":80,"color":"#111","align":"center","baseline":"alphabetic"},"encoding":{"x":{"datum":50,"type":"quantitative","axis":null},"y":{"datum":869,"type":"quantitative","axis":null}}},
{"mark":{"type":"text","text":"E","font":"Liberation Serif","fontSize":80,"color":"#111","align":"center","baseline":"alphabetic"},"encoding":{"x":{"datum":1186,"type":"quantitative","axis":null},"y":{"datum":869,"type":"quantitative","axis":null}}},
{"mark":{"type":"text","text":"F","font":"Liberation Serif","fontSize":80,"color":"#111","align":"center","baseline":"alphabetic"},"encoding":{"x":{"datum":2355,"type":"quantitative","axis":null},"y":{"datum":869,"type":"quantitative","axis":null}}},
{"mark":{"type":"text","text":"YN","font":"Liberation Serif","fontSize":45,"color":"#111","align":"center","baseline":"alphabetic"},"encoding":{"x":{"datum":910,"type":"quantitative","axis":null},"y":{"datum":932,"type":"quantitative","axis":null}}},
{"mark":{"type":"text","text":"YL","font":"Liberation Serif","fontSize":45,"color":"#111","align":"center","baseline":"alphabetic"},"encoding":{"x":{"datum":2065,"type":"quantitative","axis":null},"y":{"datum":932,"type":"quantitative","axis":null}}}
]}
],
"resolve":{"scale":{"x":"independent","y":"independent","color":"independent","theta":"independent","radius":"independent","xOffset":"independent"},"axis":{"x":"independent","y":"independent"},"legend":{"color":"independent"}}}
